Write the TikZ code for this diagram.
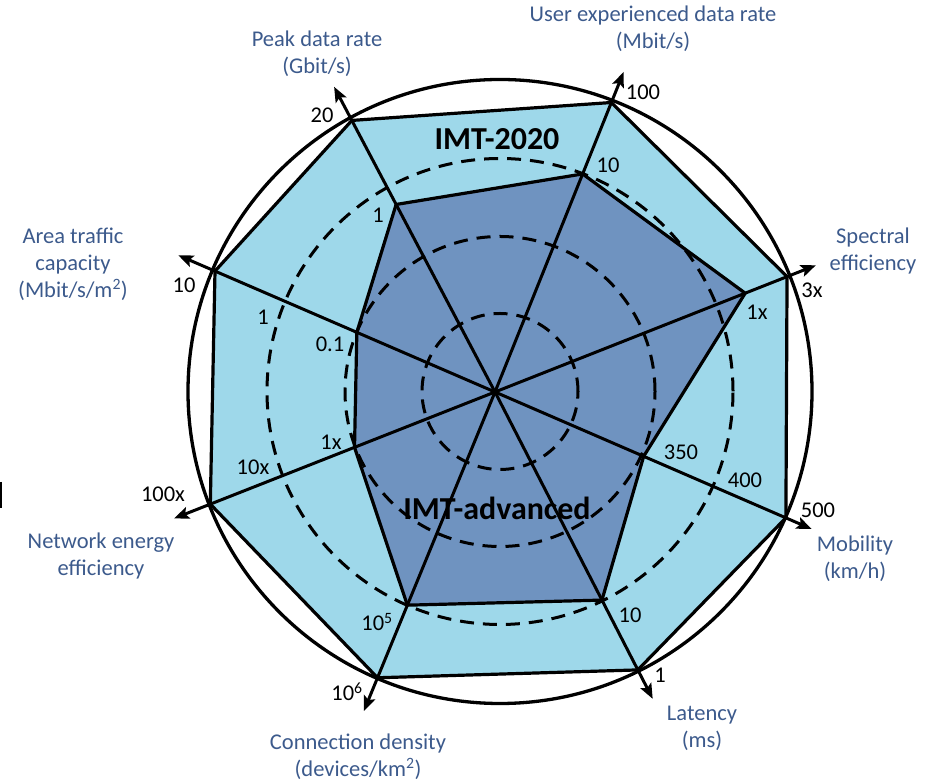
\documentclass[tikz,border=0pt]{standalone}
\usepackage{fontspec}
\setmainfont{Carlito}
\usetikzlibrary{arrows.meta}
\definecolor{outerfill}{HTML}{9ED8EA}
\definecolor{innerfill}{HTML}{6F93C0}
\definecolor{labelblue}{HTML}{3C5A8C}

\begin{document}
\begin{tikzpicture}[x=1pt,y=1pt,line join=round,
  axisline/.style={line width=3pt,-{Stealth[length=15pt,width=12pt,inset=3pt]}},
  ring/.style={line width=3pt,dash pattern=on 14pt off 9pt},
  outline/.style={line width=3.2pt},
  label/.style={text=labelblue,font=\fontsize{22.5}{27}\selectfont,align=center,inner sep=0pt},
  val/.style={font=\fontsize{22.5}{26}\selectfont,inner sep=0pt},
  title/.style={font=\fontsize{32}{36}\selectfont\bfseries,inner sep=0pt}]
\useasboundingbox (0,0) rectangle (940,781);

% centre of the axes and of the rings
\coordinate (O) at (495,389);
\coordinate (C) at (500,389.5);

% axis name / direction / IMT-2020 radius / IMT-advanced radius
\foreach \n/\a/\ro/\ri in {peak/117.8/307/212, user/68.1/312/235,
    spec/21.55/314/269, mob/-23.4/317/162, lat/-62.8/312.5/234,
    con/-112.35/309/230.5, net/-158.5/306/151, area/156.65/305/150.5}{
  \path (O) ++(\a:\ro) coordinate (\n-o);
  \path (O) ++(\a:\ri) coordinate (\n-i);
  \path (O) ++(\a:345) coordinate (\n-t);
}

% requirement areas
\fill[outerfill] (peak-o) -- (user-o) -- (spec-o) -- (mob-o) -- (lat-o)
  -- (con-o) -- (net-o) -- (area-o) -- cycle;
\fill[innerfill] (peak-i) -- (user-i) -- (spec-i) -- (mob-i) -- (lat-i)
  -- (con-i) -- (net-i) -- (area-i) -- cycle;

% scale rings
\draw[ring] (C) circle[radius=78];
\draw[ring] (C) circle[radius=155];
\draw[ring] (C) circle[radius=233];
\draw[line width=3.3pt] (C) circle[radius=312];

% polygon outlines
\draw[outline] (peak-o) -- (user-o) -- (spec-o) -- (mob-o) -- (lat-o)
  -- (con-o) -- (net-o) -- (area-o) -- cycle;
\draw[outline] (peak-i) -- (user-i) -- (spec-i) -- (mob-i) -- (lat-i)
  -- (con-i) -- (net-i) -- (area-i) -- cycle;

% axes
\foreach \n in {peak,user,spec,mob,lat,con,net,area}
  \draw[axisline] (O) -- (\n-t);

% axis captions
\node[label] (lpeak) at (317,727.5) {Peak data rate\\(Gbit/s)};
\node[label] (luser) at (653,752) {User experienced data rate\\(Mbit/s)};
\node[label] (lspec) at (873,530) {Spectral\\efficiency};
\node[label] (larea) at (73,517) {Area traffic\\capacity\\(Mbit/s/m\textsuperscript{2})};
\node[label] (lnet) at (101,224.5) {Network energy\\efficiency};
\node[label] (lmob) at (855,222.5) {Mobility\\(km/h)};
\node[label] (llat) at (702,52.5) {Latency\\(ms)};
\node[label] (lcon) at (358,24.5) {Connection density\\(devices/km\textsuperscript{2})};

% axis values
\node[val] (v20) at (322,666) {20};
\node[val] (v100) at (643,689) {100};
\node[val] (vuseri) at (608,616) {10};
\node[val] (vpeaki) at (378,566) {1};
\node[val] (v3x) at (812,491) {3x};
\node[val] (vspeci) at (757,469) {1x};
\node[val] (vareao) at (184,496) {10};
\node[val] (vaream) at (263,464) {1};
\node[val] (vareai) at (330,437) {0.1};
\node[val] (vneti) at (331,339) {1x};
\node[val] (vnetm) at (253,314) {10x};
\node[val] (vneto) at (163,287) {100x};
\node[val] (v350) at (681,329) {350};
\node[val] (v400) at (745,301) {400};
\node[val] (v500) at (818,271) {500};
\node[val] (vlati) at (630,166) {10};
\node[val] (vlato) at (660,106) {1};
\node[val] (vconi) at (377,159) {10\textsuperscript{5}};
\node[val] (vcono) at (347,89) {10\textsuperscript{6}};

% series names
\node[title] (t2020) at (497,642) {IMT-2020};
\node[title] (tadv) at (497,273) {IMT-advanced};

% short bar at the left edge
\draw[line width=2.5pt] (1,299) -- (1,273);
\end{tikzpicture}
\end{document}
